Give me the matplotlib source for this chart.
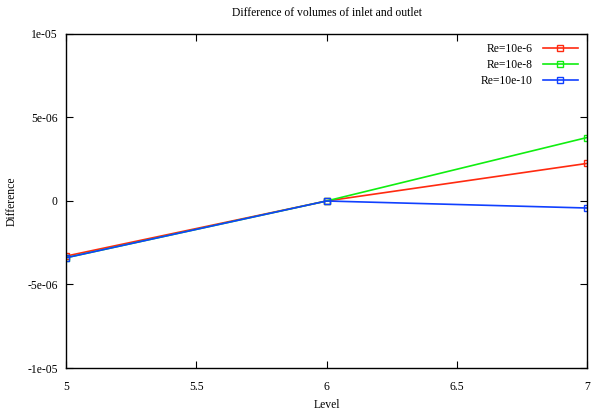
import matplotlib
matplotlib.use("Agg")
import matplotlib.pyplot as plt

# datos
niveles = [5, 6, 7]
re_6 = [-3.3e-6, 0.0, 2.25e-6]
re_8 = [-3.4e-6, 0.0, 3.8e-6]
re_10 = [-3.4e-6, 0.0, -0.42e-6]
etiquetas = ["Re=10e-6", "Re=10e-8", "Re=10e-10"]
colores = ["#ff2a10", "#10ee10", "#1040ff"]

plt.rcParams['font.family'] = ['Liberation Serif', 'DejaVu Serif']
plt.rcParams['font.size'] = 8.4

fig = plt.figure(figsize=(5.96, 4.17), dpi=100)
ax = fig.add_axes([0.1107, 0.1175, 0.8743, 0.801])

for serie, etiqueta, color in zip([re_6, re_8, re_10], etiquetas, colores):
    ax.plot(niveles, serie, '-', color=color, lw=1.2, marker='s', markersize=5,
            markerfacecolor='none', markeredgecolor=color, markeredgewidth=1.0,
            label=etiqueta)

ax.set_xlim(5, 7)
ax.set_ylim(-1e-5, 1e-5)
ax.set_xticks([5, 5.5, 6, 6.5, 7])
ax.set_xticklabels(["5", "5.5", "6", "6.5", "7"])
ax.set_yticks([-1e-5, -5e-6, 0, 5e-6, 1e-5])
ax.set_yticklabels(["-1e-05", "-5e-06", "0", "5e-06", "1e-05"])
ax.tick_params(direction='in', top=True, right=True, length=5, width=0.8, pad=6)
ax.tick_params(axis='x', pad=9)
for s in ax.spines.values():
    s.set_linewidth(1.0)

ax.set_title("Difference of volumes of inlet and outlet", fontsize=8.4, pad=13)
ax.set_xlabel("Level", labelpad=5)
ax.set_ylabel("Difference")
ax.yaxis.set_label_coords(-0.093, 0.5)

ax.legend(loc='upper right', frameon=False, markerfirst=False, handlelength=3.0,
          borderaxespad=0.5, borderpad=0.3, labelspacing=0.35, handletextpad=0.9)

fig.savefig("out.png", dpi=100)
